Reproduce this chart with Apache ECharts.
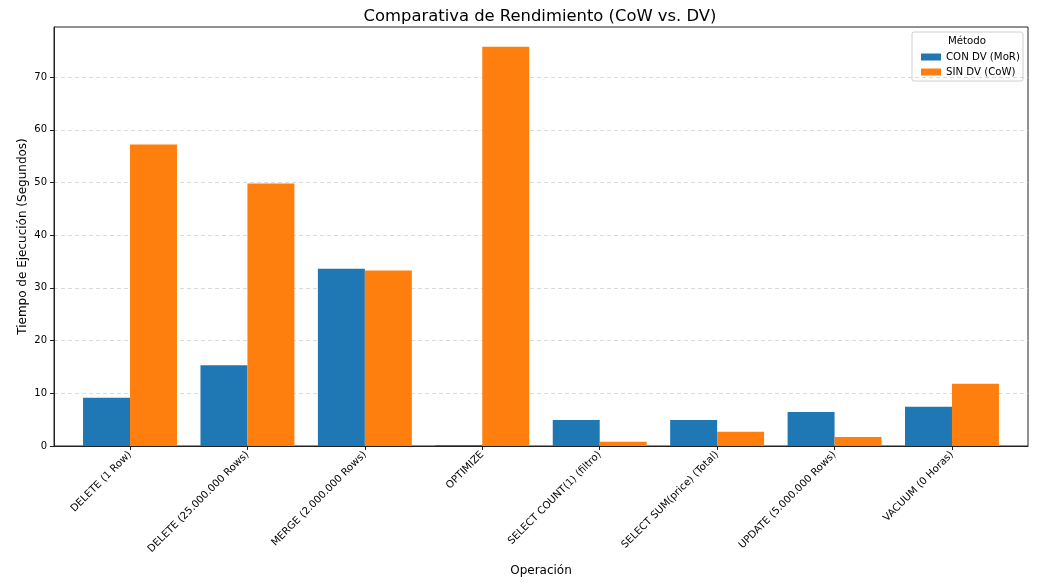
<!DOCTYPE html>
<html>
<head>
    <meta charset="utf-8">
    <title>Comparativa de Rendimiento</title>
    <script src="https://cdn.jsdelivr.net/npm/echarts@6/dist/echarts.min.js"></script>
    <style type="text/css">
        html, body { margin: 0; padding: 0; background: #fff; }
        #main { width: 1039px; height: 585px; }
    </style>
</head>
<body>
<div id="main"></div>
<script type="text/javascript">
    // datos
    var operaciones = [
        'DELETE (1 Row)', 'DELETE (25.000.000 Rows)', 'MERGE (2.000.000 Rows)', 'OPTIMIZE',
        'SELECT COUNT(1) (filtro)', 'SELECT SUM(price) (Total)', 'UPDATE (5.000.000 Rows)', 'VACUUM (0 Horas)'
    ];
    var conDV = [9.15, 15.3, 33.65, 0.2, 4.95, 4.95, 6.45, 7.45];
    var sinDV = [57.2, 49.8, 33.3, 75.75, 0.8, 2.7, 1.7, 11.8];
    var yTicks = [0, 10, 20, 30, 40, 50, 60, 70];
    var yMax = 79.5;

    var font = 'DejaVu Sans';
    var chart = echarts.init(document.getElementById('main'));

    var frameLine = {show: true, lineStyle: {color: '#222', width: 1}};

    chart.setOption({
        animation: false,
        textStyle: {fontFamily: font},
        title: {
            text: 'Comparativa de Rendimiento (CoW vs. DV)',
            left: 535,
            textAlign: 'center',
            top: 4,
            textStyle: {fontFamily: font, fontSize: 16.4, fontWeight: 'normal', color: '#000'}
        },
        legend: {
            orient: 'vertical',
            left: 916,
            top: 46,
            itemWidth: 20,
            itemHeight: 7,
            itemGap: 3,
            icon: 'rect',
            textStyle: {fontFamily: font, fontSize: 10.2, color: '#000', lineHeight: 12},
            data: ['CON DV (MoR)', 'SIN DV (CoW)']
        },
        graphic: [
            {
                type: 'rect',
                shape: {x: 912, y: 32, width: 111, height: 49, r: 2},
                style: {fill: 'rgba(255,255,255,0.8)', stroke: '#d0d0d0', lineWidth: 1},
                z: 0
            },
            {
                type: 'text',
                x: 967, y: 41,
                style: {text: 'Método', font: '10.2px "DejaVu Sans"', fill: '#000', align: 'center', verticalAlign: 'middle'}
            }
        ],
        grid: [
            // marco completo
            {left: 54, right: 11, top: 27, bottom: 139, show: true, borderColor: '#222', borderWidth: 1, backgroundColor: 'transparent'},
            // zona de las barras
            {left: 71.3, right: 28.3, top: 27, bottom: 139}
        ],
        xAxis: [
            {
                type: 'value', gridIndex: 0, min: 0, max: 1,
                axisLine: frameLine, axisTick: {show: false}, axisLabel: {show: false}, splitLine: {show: false}
            },
            {
                type: 'category',
                gridIndex: 1,
                data: operaciones,
                name: 'Operación',
                nameLocation: 'middle',
                nameGap: 119,
                nameTextStyle: {fontFamily: font, fontSize: 12, color: '#000'},
                axisLine: {show: false},
                axisTick: {show: true, alignWithLabel: true, length: 4, lineStyle: {color: '#222'}},
                axisLabel: {rotate: 45, fontSize: 10.2, color: '#000', margin: 7, interval: 0}
            }
        ],
        yAxis: [
            {
                type: 'value',
                gridIndex: 0,
                min: 0,
                max: yMax,
                interval: 10,
                name: 'Tiempo de Ejecución (Segundos)',
                nameLocation: 'middle',
                nameGap: 25,
                nameMoveOverlap: false,
                nameTextStyle: {fontFamily: font, fontSize: 12, color: '#000'},
                axisLine: frameLine,
                axisTick: {show: true, length: 4, customValues: yTicks, lineStyle: {color: '#222'}},
                axisLabel: {fontSize: 10, color: '#000', margin: 7, customValues: yTicks},
                splitLine: {show: true, lineStyle: {color: '#d0d0d0', type: [4, 3], width: 0.8}}
            },
            {type: 'value', gridIndex: 1, min: 0, max: yMax, show: false}
        ],
        series: [
            {
                name: 'CON DV (MoR)',
                type: 'bar',
                xAxisIndex: 1,
                yAxisIndex: 1,
                barWidth: '40%',
                barGap: '0%',
                itemStyle: {color: '#1f77b4'},
                data: conDV
            },
            {
                name: 'SIN DV (CoW)',
                type: 'bar',
                xAxisIndex: 1,
                yAxisIndex: 1,
                barWidth: '40%',
                barGap: '0%',
                itemStyle: {color: '#ff7f0e'},
                data: sinDV
            }
        ]
    });
</script>
</body>
</html>
